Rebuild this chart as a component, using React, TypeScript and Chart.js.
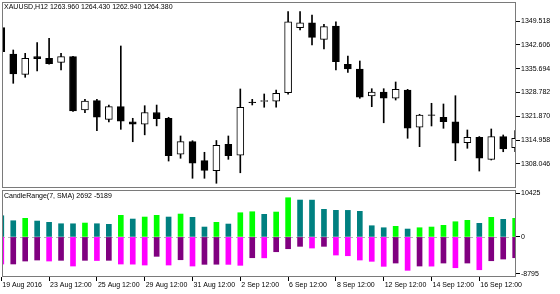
import React, { useEffect, useRef } from 'react';
import { Chart, registerables } from 'chart.js';

Chart.register(...registerables);

// ---- Data (XAUUSD, H12) ----
const opens = [1347.60, 1339.95, 1334.06, 1339.17, 1338.70, 1337.52, 1339.17, 1323.71, 1326.41, 1321.00, 1324.66, 1320.30, 1319.60, 1322.98, 1321.30, 1310.86, 1314.52, 1309.00, 1306.10, 1313.76, 1310.57, 1326.00, 1326.20, 1326.30, 1328.73, 1347.58, 1349.00, 1344.20, 1348.06, 1336.96, 1335.60, 1327.77, 1328.93, 1327.10, 1329.50, 1318.69, 1322.30, 1321.60, 1320.30, 1314.22, 1315.79, 1309.40, 1316.00, 1312.80];
const highs = [1348.00, 1341.11, 1340.15, 1343.23, 1344.50, 1340.15, 1339.30, 1326.81, 1326.81, 1325.16, 1342.27, 1321.30, 1324.95, 1325.14, 1321.59, 1316.17, 1314.80, 1311.44, 1314.86, 1316.17, 1329.80, 1326.80, 1328.35, 1329.50, 1352.22, 1352.22, 1351.26, 1348.56, 1349.30, 1339.37, 1337.92, 1329.88, 1329.88, 1331.83, 1329.70, 1322.46, 1325.65, 1325.45, 1327.85, 1317.91, 1316.00, 1318.20, 1316.46, 1317.70];
const lows = [1340.20, 1331.45, 1333.19, 1335.02, 1336.97, 1335.31, 1323.30, 1322.93, 1317.70, 1320.23, 1318.10, 1314.50, 1316.50, 1319.10, 1308.90, 1309.70, 1303.90, 1303.90, 1302.45, 1309.40, 1305.50, 1325.16, 1324.50, 1324.50, 1328.26, 1346.90, 1342.56, 1341.40, 1335.30, 1334.64, 1327.10, 1324.66, 1320.00, 1326.60, 1315.50, 1313.07, 1319.07, 1318.40, 1309.00, 1312.60, 1306.00, 1309.20, 1311.60, 1311.60];
const closes = [1340.60, 1334.15, 1338.70, 1338.58, 1337.14, 1339.17, 1323.41, 1326.31, 1321.59, 1324.66, 1320.50, 1319.60, 1322.98, 1321.16, 1310.46, 1314.52, 1308.25, 1306.20, 1313.47, 1310.46, 1324.50, 1325.80, 1326.45, 1328.55, 1349.31, 1349.00, 1344.79, 1347.87, 1337.71, 1335.60, 1327.40, 1328.93, 1327.10, 1329.70, 1318.40, 1322.26, 1322.10, 1320.30, 1314.05, 1315.79, 1309.70, 1316.00, 1312.40, 1315.50];

// CandleRange(7, SMA): first entry is the bar just before the visible window
const rangeHigh = [5200, 5031, 3844, 4414, 3773, 3465, 3132, 3120, 3298, 3132, 2990, 5126, 4248, 4722, 5126, 4722, 5434, 4651, 2349, 3465, 3061, 5743, 5980, 5363, 5909, 9302, 8756, 8740, 6549, 6312, 6300, 6075, 2658, 2183, 2515, 1875, 2183, 2349, 2753, 3607, 3939, 3227, 4651, 4176, 4414];
const rangeLow = [-6000, -6431, -6420, -5719, -5482, -5719, -5553, -6905, -5553, -5600, -5553, -6431, -6460, -6668, -4604, -6668, -5410, -6905, -6502, -6480, -6510, -6739, -4936, -4960, -3512, -2800, -2231, -2634, -2231, -4295, -4461, -5482, -5790, -6977, -6194, -7926, -6905, -6930, -6194, -7309, -6194, -7783, -5648, -5244, -4936];

const priceTicks = [1308.046, 1314.958, 1321.870, 1328.782, 1335.694, 1342.606, 1349.518];
const rangeTicks = [-8795, 0, 10425];
const dateLabels = ['19 Aug 2016', '23 Aug 12:00', '25 Aug 12:00', '29 Aug 12:00', '31 Aug 12:00', '2 Sep 12:00', '6 Sep 12:00', '8 Sep 12:00', '12 Sep 12:00', '14 Sep 12:00', '16 Sep 12:00'];
const dateLabelBars = [0, 4, 8, 12, 16, 20, 24, 28, 32, 36, 40];

const headerText = 'XAUUSD,H12 1263.960 1264.430 1262.940 1264.380';
const indicatorText = 'CandleRange(7, SMA) 2692 -5189';

// ---- Layout ----
const W = 560;
const MAIN_H = 190;
const IND_TOP = 188;
const IND_H = 106;
const AXIS_W = 44;
const X_MIN = 0.0586;
const X_MAX = 43.07;
const FONT = '"Liberation Sans", Arial, sans-serif';
const FONT_SIZE = 7;

const framePlugin = {
  id: 'frame',
  afterDraw(chart: any) {
    const { ctx, chartArea: a } = chart;
    ctx.save();
    ctx.strokeStyle = '#7a7a7a';
    ctx.lineWidth = 1;
    ctx.strokeRect(a.left + 0.5, a.top + 0.5, a.right - a.left - 1, a.bottom - a.top - 1);
    ctx.restore();
  },
};

const zeroLinePlugin = {
  id: 'zeroLine',
  beforeDatasetsDraw(chart: any) {
    const { ctx, chartArea: a } = chart;
    const y = Math.round(chart.scales.y.getPixelForValue(0)) + 0.5;
    ctx.save();
    ctx.strokeStyle = '#b8b8b8';
    ctx.lineWidth = 1;
    ctx.setLineDash([3, 3]);
    ctx.beginPath();
    ctx.moveTo(a.left, y);
    ctx.lineTo(a.right, y);
    ctx.stroke();
    ctx.restore();
  },
};

const yAxisFit = (s: any) => {
  s.width = AXIS_W;
  s.paddingTop = 0;
  s.paddingBottom = 0;
};

export default function App() {
  const mainRef = useRef<HTMLCanvasElement>(null);
  const indRef = useRef<HTMLCanvasElement>(null);

  useEffect(() => {
    const idx = opens.map((_, i) => i);
    const wickData = idx.map((i) => ({ x: i, y: [lows[i], highs[i]] }));
    const bodyData = idx.map((i) => ({ x: i, y: [opens[i], closes[i]] }));
    const bodyColors = idx.map((i) => (closes[i] >= opens[i] ? '#ffffff' : '#000000'));

    const main = new Chart(mainRef.current!, {
      type: 'bar',
      data: {
        datasets: [
          {
            data: bodyData as any,
            backgroundColor: bodyColors,
            borderColor: '#000000',
            borderWidth: 1,
            borderSkipped: false,
            grouped: false,
            categoryPercentage: 1,
            barPercentage: 1,
            maxBarThickness: 7,
            clip: 0,
            order: 0,
          } as any,
          {
            data: wickData as any,
            backgroundColor: '#000000',
            borderWidth: 0,
            grouped: false,
            categoryPercentage: 1,
            barPercentage: 1,
            maxBarThickness: 1,
            clip: 0,
            order: 1,
          } as any,
        ],
      },
      options: {
        responsive: false,
        animation: false,
        events: [],
        layout: { padding: { left: 2, top: 2, bottom: 2, right: 0 } },
        plugins: { legend: { display: false }, tooltip: { enabled: false } },
        scales: {
          x: { type: 'linear', min: X_MIN, max: X_MAX, offset: false, grid: { offset: false }, display: false },
          y: {
            type: 'linear',
            position: 'right',
            min: 1301.08,
            max: 1355.03,
            afterBuildTicks: (s: any) => {
              s.ticks = priceTicks.map((v) => ({ value: v }));
            },
            afterFit: yAxisFit,
            grid: { drawOnChartArea: false, drawTicks: true, tickLength: 4, tickColor: '#000000' },
            border: { display: false },
            ticks: {
              padding: 1,
              color: '#000000',
              font: { family: FONT, size: FONT_SIZE },
              callback: (v: any) => Number(v).toFixed(3),
            },
          },
        },
      },
      plugins: [framePlugin],
    });

    const visHigh = rangeHigh.slice(1);
    const visLow = rangeLow.slice(1);
    const highData = visHigh.map((v, i) => ({ x: i, y: v }));
    const lowData = visLow.map((v, i) => ({ x: i, y: v }));
    const highColors = visHigh.map((v, i) => (v > rangeHigh[i] ? '#00ff00' : '#008080'));
    const lowColors = visLow.map((v, i) => (Math.abs(v) > Math.abs(rangeLow[i]) ? '#ff00ff' : '#800080'));

    const ind = new Chart(indRef.current!, {
      type: 'bar',
      data: {
        datasets: [
          {
            data: highData as any,
            backgroundColor: highColors,
            borderWidth: 0,
            grouped: false,
            categoryPercentage: 1,
            barPercentage: 1,
            maxBarThickness: 5,
            clip: 0,
          } as any,
          {
            data: lowData as any,
            backgroundColor: lowColors,
            borderWidth: 0,
            grouped: false,
            categoryPercentage: 1,
            barPercentage: 1,
            maxBarThickness: 5,
            clip: 0,
          } as any,
        ],
      },
      options: {
        responsive: false,
        animation: false,
        events: [],
        layout: { padding: { left: 2, top: 2, bottom: 0, right: 0 } },
        plugins: { legend: { display: false }, tooltip: { enabled: false } },
        scales: {
          x: {
            type: 'linear',
            min: X_MIN,
            max: X_MAX,
            offset: false,
            afterBuildTicks: (s: any) => {
              s.ticks = dateLabelBars.map((v) => ({ value: v }));
            },
            afterFit: (s: any) => {
              s.height = 17;
              s.paddingLeft = 0;
              s.paddingRight = 0;
            },
            grid: { offset: false, drawOnChartArea: false, drawTicks: true, tickLength: 4, tickColor: '#000000' },
            border: { display: false },
            ticks: {
              align: 'start',
              labelOffset: 1,
              padding: 0,
              maxRotation: 0,
              minRotation: 0,
              autoSkip: false,
              color: '#000000',
              font: { family: FONT, size: FONT_SIZE },
              callback: (_v: any, i: number) => dateLabels[i],
            },
          },
          y: {
            type: 'linear',
            position: 'right',
            min: -9507,
            max: 11137,
            afterBuildTicks: (s: any) => {
              s.ticks = rangeTicks.map((v) => ({ value: v }));
            },
            afterFit: yAxisFit,
            grid: { drawOnChartArea: false, drawTicks: true, tickLength: 4, tickColor: '#000000' },
            border: { display: false },
            ticks: {
              padding: 1,
              color: '#000000',
              font: { family: FONT, size: FONT_SIZE },
              callback: (v: any) => String(v),
            },
          },
        },
      },
      plugins: [framePlugin, zeroLinePlugin],
    });

    return () => {
      main.destroy();
      ind.destroy();
    };
  }, []);

  const textStyle: React.CSSProperties = {
    position: 'absolute',
    left: 4,
    font: `${FONT_SIZE}px ${FONT}`,
    lineHeight: '8px',
    color: '#000',
    whiteSpace: 'pre',
  };

  return (
    <div style={{ position: 'fixed', left: 0, top: 0, width: W, height: 294, background: '#fff', overflow: 'hidden' }}>
      <canvas ref={mainRef} width={W} height={MAIN_H} style={{ position: 'absolute', left: 0, top: 0 }} />
      <canvas ref={indRef} width={W} height={IND_H} style={{ position: 'absolute', left: 0, top: IND_TOP }} />
      <div style={{ ...textStyle, top: 3 }}>{headerText}</div>
      <div style={{ ...textStyle, top: 192 }}>{indicatorText}</div>
    </div>
  );
}
